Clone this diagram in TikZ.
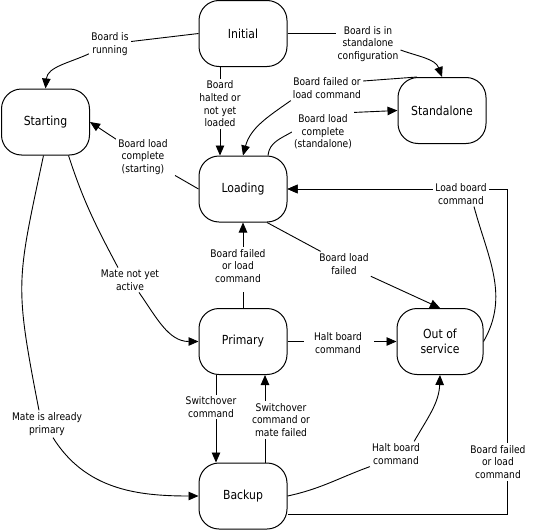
\documentclass[tikz,border=0pt]{standalone}
\usepackage{fontspec}
\setmainfont{DejaVu Sans}[FakeStretch=0.87]
\usetikzlibrary{arrows.meta}
\pgfdeclarelayer{bg}
\pgfsetlayers{bg,main}
\begin{document}
\begin{tikzpicture}[x=1pt,y=1pt,
  state/.style={draw, line width=1pt, rounded corners=20pt, minimum width=88pt,
    minimum height=66pt, align=center, inner sep=0pt,
    font=\fontsize{12.5}{15.5}\selectfont},
  lbl/.style={fill=white, align=center, inner sep=2pt,
    font=\fontsize{10.5}{12.7}\selectfont},
  conn/.style={line width=0.9pt},
  arr/.style={conn, -{Triangle[length=10pt,width=8.5pt]}}
]
\useasboundingbox (0,0) rectangle (535,-530);
% states
\node[state] (init) at (243,-33.5) {Initial};
\node[state] (start) at (45.5,-122) {Starting};
\node[state] (stand) at (442,-110.5) {Standalone};
\node[state] (load) at (243,-189) {Loading};
\node[state] (prim) at (243,-341.5) {Primary};
\node[state, minimum width=86pt] (oos) at (440,-341.5) {Out of\\service};
\node[state] (back) at (243,-496) {Backup};
% labels
\node[lbl] (L1) at (110,-44) {Board is\\running};
\node[lbl] (L2) at (368,-44) {Board is in\\standalone\\configuration};
\node[lbl] (L3) at (220,-104) {Board\\halted or\\not yet\\loaded};
\node[lbl] (L4) at (327,-88) {Board failed or\\load command};
\node[lbl] (L5) at (323,-132) {Board load\\complete\\(standalone)};
\node[lbl] (L6) at (143,-157) {Board load\\complete\\(starting)};
\node[lbl] (L7) at (130,-280) {Mate not yet\\active};
\node[lbl] (L8) at (47,-424) {Mate is already\\primary};
\node[lbl] (L9) at (238,-266) {Board failed\\or load\\command};
\node[lbl] (L10) at (344,-264) {Board load\\failed};
\node[lbl] (L11) at (461,-194) {Load board\\command};
\node[lbl] (L12) at (498,-462) {Board failed\\or load\\command};
\node[lbl] (L13) at (338,-343) {Halt board\\command};
\node[lbl] (L14) at (211,-407) {Switchover\\command};
\node[lbl] (L15) at (281,-420) {Switchover\\command or\\mate failed};
\node[lbl] (L16) at (396,-454) {Halt board\\command};
\coordinate (bend) at (507,-514);
\begin{pgfonlayer}{bg}
% Initial -> Starting
\draw[conn] (init.west) -- (L1);
\draw[arr] (L1) to[out=205,in=85] (start.north);
% Initial -> Standalone
\draw[conn] (init.east) -- (init.east -| L2.west);
\draw[arr] ([yshift=-6pt]L2.east) to[out=-20,in=110] (stand.north);
% Initial -> Loading
\draw[conn] (init.south -| L3) -- (L3);
\draw[arr] (L3) -- (L3 |- load.north);
% Standalone -> Loading
\draw[conn] ([xshift=-25pt]stand.north) -- ([yshift=7pt]L4.east);
\draw[arr] (L4.south west) to[out=215,in=75] (load.north);
% Loading -> Standalone
\draw[conn] ([xshift=25pt]load.north) to[out=85,in=210] (L5.west);
\draw[arr] (L5.north east) -- (stand.west);
% Loading -> Starting
\draw[conn, shorten >=6pt] (load.west) -- (L6);
\draw[arr] (L6) -- (start.east);
% Starting -> Primary
\draw[conn] ([xshift=23pt]start.south) to[out=-72,in=118] ([xshift=-12pt]L7.north);
\draw[arr] ([xshift=9pt]L7.south) to[out=-55,in=180] (prim.west);
% Starting -> Backup
\draw[conn] ([xshift=-2pt]start.south) to[out=258,in=101,looseness=1.3] ([xshift=-8pt]L8.north);
\draw[arr] ([xshift=6pt]L8.south) to[out=-58,in=180] (back.west);
% Primary -> Loading
\draw[conn] (prim.north) -- ++(0,16);
\draw[arr] (L9.north -| load.south) -- (load.south);
% Loading -> Out of service
\draw[conn] ([xshift=24pt]load.south) -- (L10);
\draw[arr] (L10) -- (oos.north);
% Out of service -> Loading
\draw[conn] (oos.east) to[out=60,in=-75] ([xshift=13pt]L11.south);
\draw[arr] (L11.west |- load.east) -- (load.east);
% Backup -> Loading
\draw[arr] ([yshift=-18pt]back.east) -- (bend) |- (load.east);
% Primary -> Out of service
\draw[conn, shorten >=8pt] (prim.east) -- (prim.east -| L13.west);
\draw[arr, shorten <=10pt] (L13.east |- oos.west) -- (oos.west);
% Primary -> Backup
\draw[arr] ([xshift=-27pt]prim.south) -- ([xshift=-27pt]back.north);
% Backup -> Primary
\draw[arr] ([xshift=22pt]back.north) -- ([xshift=22pt]prim.south);
% Backup -> Out of service
\draw[conn] (back.east) to[out=12,in=200] (L16.south west);
\draw[arr] ([xshift=-8pt]L16.north east) to[out=60,in=-92] (oos.south);
\end{pgfonlayer}
\end{tikzpicture}
\end{document}
